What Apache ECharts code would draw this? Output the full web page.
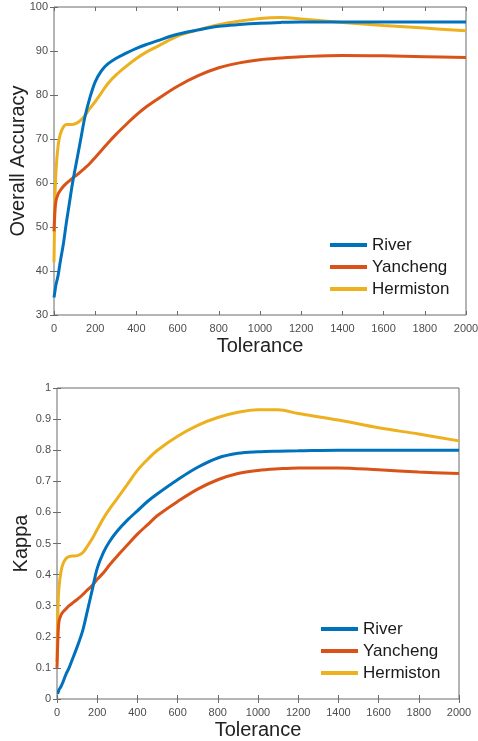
<!DOCTYPE html>
<html>
<head>
<meta charset="utf-8">
<script src="https://cdn.jsdelivr.net/npm/echarts@6/dist/echarts.min.js"></script>
<style>
  html, body { margin: 0; padding: 0; background: #fff; }
  #main { width: 478px; height: 741px; }
</style>
</head>
<body>
<div id="main"></div>
<script>
// tolerance sample points (shared by every curve)
var tolerance = [0, 5, 10, 20, 30, 45, 60, 75, 90, 110, 130, 150, 175, 200, 230, 260, 300, 350, 400, 450, 500, 600, 700, 800, 900, 1000, 1100, 1200, 1400, 1600, 1800, 2000];

// Overall Accuracy
var oaRiver     = [34, 35.5, 37, 39, 42, 46, 51, 55.5, 60, 65, 70, 75, 79.5, 83, 85.5, 87, 88.3, 89.5, 90.6, 91.5, 92.3, 93.8, 94.8, 95.6, 96.0, 96.3, 96.5, 96.6, 96.6, 96.6, 96.6, 96.6];
var oaYancheng  = [49, 54, 56, 57.5, 58.3, 59.2, 59.9, 60.5, 61.1, 61.8, 62.6, 63.4, 64.5, 65.8, 67.4, 69, 71, 73.3, 75.5, 77.4, 79, 82, 84.4, 86.2, 87.3, 88, 88.4, 88.7, 89, 88.9, 88.7, 88.5];
var oaHermiston = [42, 57, 63, 68.5, 71, 72.7, 73.3, 73.3, 73.3, 73.6, 74.3, 75.3, 77, 78.5, 80.5, 82.5, 84.5, 86.5, 88.3, 89.8, 91, 93.4, 94.8, 96.0, 96.8, 97.4, 97.6, 97.3, 96.5, 95.8, 95.2, 94.6];

// Kappa
var kRiver     = [0.02, 0.02, 0.03, 0.04, 0.055, 0.08, 0.1, 0.125, 0.15, 0.185, 0.225, 0.28, 0.35, 0.42, 0.47, 0.505, 0.54, 0.575, 0.605, 0.635, 0.66, 0.705, 0.745, 0.775, 0.79, 0.795, 0.797, 0.798, 0.8, 0.8, 0.8, 0.8];
var kYancheng  = [0.1, 0.2, 0.25, 0.27, 0.28, 0.29, 0.3, 0.307, 0.315, 0.325, 0.337, 0.35, 0.365, 0.385, 0.405, 0.43, 0.46, 0.495, 0.53, 0.56, 0.59, 0.635, 0.675, 0.705, 0.725, 0.735, 0.74, 0.743, 0.743, 0.737, 0.73, 0.725];
var kHermiston = [0.12, 0.3, 0.36, 0.41, 0.435, 0.452, 0.458, 0.46, 0.46, 0.463, 0.472, 0.49, 0.515, 0.545, 0.58, 0.61, 0.645, 0.69, 0.735, 0.77, 0.8, 0.845, 0.88, 0.905, 0.922, 0.93, 0.93, 0.918, 0.897, 0.872, 0.852, 0.83];

var names = ['River', 'Yancheng', 'Hermiston'];
var colors = ['#0072BD', '#D95319', '#EDB120'];

var font = 'Liberation Sans, Arial, sans-serif';
var tickColor = '#4d4d4d';
var lineColor = '#6b6b6b';

function pairs(ys) {
  return tolerance.map(function (t, i) { return [t, ys[i]]; });
}

function mkSeries(ys, idx, g) {
  return {
    name: names[idx],
    type: 'line',
    xAxisIndex: g * 2,
    yAxisIndex: g * 2,
    data: pairs(ys),
    smooth: 0.35,
    showSymbol: false,
    symbol: 'none',
    lineStyle: { width: 3, color: colors[idx] },
    itemStyle: { color: colors[idx] },
    z: 3 - idx
  };
}

function plain(v) { return String(v); }

function xAxes(g, gap) {
  return [{
    gridIndex: g, type: 'value', min: 0, max: 2000, interval: 200,
    name: 'Tolerance', nameLocation: 'middle', nameGap: gap,
    nameTextStyle: { fontFamily: font, fontSize: 20, color: '#222' },
    axisLine: { show: false },
    axisTick: { inside: true, length: 4, lineStyle: { color: lineColor } },
    axisLabel: { fontFamily: font, fontSize: 11, color: tickColor, margin: 8, formatter: plain },
    splitLine: { show: false }
  }, {
    gridIndex: g, type: 'value', min: 0, max: 2000, interval: 200, position: 'top',
    axisLine: { show: false },
    axisTick: { inside: true, length: 4, lineStyle: { color: lineColor } },
    axisLabel: { show: false },
    splitLine: { show: false }
  }];
}

function yAxes(g, min, max, interval, name, gap) {
  return [{
    gridIndex: g, type: 'value', min: min, max: max, interval: interval,
    name: name, nameLocation: 'middle', nameGap: gap, nameMoveOverlap: false,
    nameTextStyle: { fontFamily: font, fontSize: 20, color: '#222' },
    axisLine: { show: false },
    axisTick: { inside: true, length: 4, lineStyle: { color: lineColor } },
    axisLabel: { fontFamily: font, fontSize: 11, color: tickColor, margin: 6, formatter: plain },
    splitLine: { show: false }
  }, {
    gridIndex: g, type: 'value', min: min, max: max, interval: interval, position: 'right',
    axisLine: { show: false },
    axisTick: { inside: true, length: 4, lineStyle: { color: lineColor } },
    axisLabel: { show: false },
    splitLine: { show: false }
  }];
}

function mkLegend(left, top) {
  return {
    orient: 'vertical', left: left, top: top,
    data: names.map(function (n) { return { name: n, icon: 'rect' }; }),
    itemWidth: 37, itemHeight: 4, itemGap: 4,
    textStyle: { fontFamily: font, fontSize: 17, color: '#1a1a1a', lineHeight: 18 },
    selectedMode: false
  };
}

var chart = echarts.init(document.getElementById('main'), null, { renderer: 'canvas' });
var option = {
  animation: false,
  backgroundColor: '#fff',
  grid: [
    { left: 54, top: 7, width: 412, height: 308, outerBoundsMode: 'none', show: true, borderColor: lineColor, borderWidth: 1, backgroundColor: 'transparent' },
    { left: 57, top: 388, width: 402, height: 311, outerBoundsMode: 'none', show: true, borderColor: lineColor, borderWidth: 1, backgroundColor: 'transparent' }
  ],
  xAxis: xAxes(0, 21).concat(xAxes(1, 21)),
  yAxis: yAxes(0, 30, 100, 10, 'Overall Accuracy', 26).concat(yAxes(1, 0, 1, 0.1, 'Kappa', 26)),
  legend: [mkLegend(325, 231), mkLegend(316, 615)],
  series: [
    mkSeries(oaRiver, 0, 0),
    mkSeries(oaYancheng, 1, 0),
    mkSeries(oaHermiston, 2, 0),
    mkSeries(kRiver, 0, 1),
    mkSeries(kYancheng, 1, 1),
    mkSeries(kHermiston, 2, 1)
  ]
};
chart.setOption(option);
</script>
</body>
</html>
